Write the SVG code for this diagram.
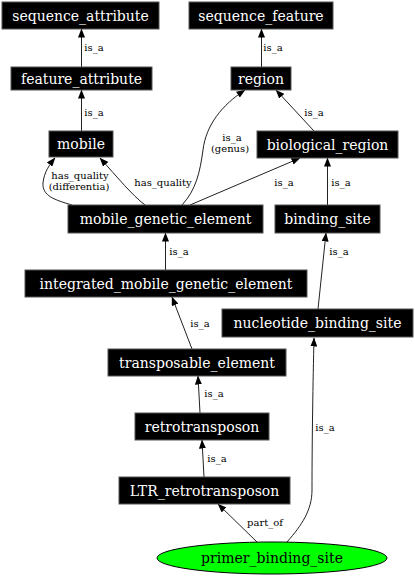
<svg xmlns="http://www.w3.org/2000/svg" width="415" height="576" viewBox="0 0 415 576">
<style>
.n rect{fill:#000;stroke:#555;stroke-width:1}
.n text{fill:#fff;font-family:"DejaVu Serif","Liberation Serif",serif;font-size:14px;text-anchor:middle}
.e path{fill:none;stroke:#222;stroke-width:1;marker-end:url(#ah)}
.e text{fill:#000;font-family:"DejaVu Serif","Liberation Serif",serif;font-size:10px;text-anchor:middle}
</style>
<defs>
<marker id="ah" markerUnits="userSpaceOnUse" markerWidth="9" markerHeight="7" refX="8.5" refY="3.5" orient="auto">
<path d="M0,0 L9,3.5 L0,7 z" fill="#000"/>
</marker>
</defs>
<rect width="415" height="576" fill="#fff"/>
<g id="edges" class="e">
<path d="M81.5,67 L81.5,29"/><text x="94" y="51">is_a</text>
<path d="M81.5,131 L81.5,90"/><text x="94" y="116">is_a</text>
<path d="M261.5,67 L261.5,29"/><text x="273" y="51">is_a</text>
<path d="M314,131 L276,90"/><text x="314" y="116">is_a</text>
<path d="M182,205 C196,190 200,172 203,150 C206,125 222,105 245,90"/><text x="232" y="141">is_a</text><text x="230" y="152">(genus)</text>
<path d="M190,205 L300,158"/><text x="284" y="186">is_a</text>
<path d="M327.5,205 L327.5,158"/><text x="341" y="186">is_a</text>
<path d="M72,205 C55,200 42,196 43,183 C44,172 50,164 55,158"/><text x="80" y="179">has_quality</text><text x="79" y="190">(differentia)</text>
<path d="M145,205 C132,195 118,178 100,158"/><text x="163" y="186">has_quality</text>
<path d="M165.5,270 L165.5,233"/><text x="179" y="255">is_a</text>
<path d="M318,309 L326,233"/><text x="339" y="255">is_a</text>
<path d="M192,349 L172,297"/><text x="200" y="327">is_a</text>
<path d="M200,413 L198,376"/><text x="214" y="397">is_a</text>
<path d="M204,477 L202,440"/><text x="217" y="462">is_a</text>
<path d="M257,542 L218,504"/><text x="265" y="526">part_of</text>
<path d="M287,542 C302,525 312,510 312,490 C312,440 313,380 314,338"/><text x="325" y="431">is_a</text>
</g>
<g id="sequence_attribute" class="n"><rect x="2" y="2" width="157" height="27"/><text x="80.5" y="20.5">sequence_attribute</text></g>
<g id="sequence_feature" class="n"><rect x="189" y="2" width="144" height="27"/><text x="261" y="20.5">sequence_feature</text></g>
<g id="feature_attribute" class="n"><rect x="11" y="67" width="141" height="23"/><text x="81.5" y="83.5">feature_attribute</text></g>
<g id="region" class="n"><rect x="231" y="67" width="60" height="23"/><text x="261" y="83.5">region</text></g>
<g id="mobile" class="n"><rect x="49" y="131" width="64" height="26"/><text x="81" y="149">mobile</text></g>
<g id="biological_region" class="n"><rect x="257" y="131" width="141" height="27"/><text x="327.5" y="149.5">biological_region</text></g>
<g id="mobile_genetic_element" class="n"><rect x="68" y="205" width="195" height="28"/><text x="165.5" y="223.5">mobile_genetic_element</text></g>
<g id="binding_site" class="n"><rect x="275" y="205" width="105" height="28"/><text x="327.5" y="223.5">binding_site</text></g>
<g id="integrated_mobile_genetic_element" class="n"><rect x="25" y="270" width="282" height="27"/><text x="166" y="288.5">integrated_mobile_genetic_element</text></g>
<g id="nucleotide_binding_site" class="n"><rect x="222" y="309" width="191" height="28"/><text x="317.5" y="327.5">nucleotide_binding_site</text></g>
<g id="transposable_element" class="n"><rect x="108" y="349" width="178" height="27"/><text x="197" y="367.5">transposable_element</text></g>
<g id="retrotransposon" class="n"><rect x="135" y="413" width="134" height="27"/><text x="202" y="431.5">retrotransposon</text></g>
<g id="LTR_retrotransposon" class="n"><rect x="119" y="477" width="171" height="27"/><text x="204.5" y="495.5">LTR_retrotransposon</text></g>
<g id="primer_binding_site"><ellipse cx="272" cy="558" rx="115" ry="16" fill="#00ff00" stroke="#000"/><text x="272" y="563" font-family="DejaVu Serif, Liberation Serif, serif" font-size="14" text-anchor="middle" fill="#000">primer_binding_site</text></g>
</svg>
